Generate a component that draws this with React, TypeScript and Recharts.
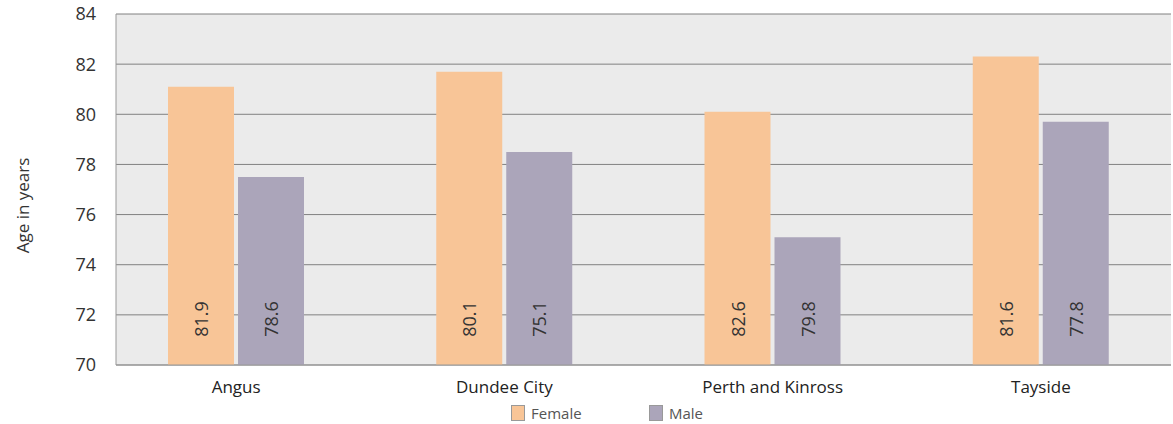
import { Bar, BarChart, CartesianGrid, LabelList, Legend, XAxis, YAxis } from "recharts";

const areas = ["Angus", "Dundee City", "Perth and Kinross", "Tayside"];
const femaleAge = [81.1, 81.7, 80.1, 82.3];
const maleAge = [77.5, 78.5, 75.1, 79.7];
// printed labels as they appear on the bars
const femaleLabels = ["81.9", "80.1", "82.6", "81.6"];
const maleLabels = ["78.6", "75.1", "79.8", "77.8"];
const yTicks = [70, 72, 74, 76, 78, 80, 82, 84];

const FEMALE = "#f8c597";
const MALE = "#aba5ba";
const FONT = "'Open Sans', sans-serif";

const data = areas.map((area, i) => ({
  area,
  female: femaleAge[i],
  male: maleAge[i],
  femaleLabel: femaleLabels[i],
  maleLabel: maleLabels[i],
}));

function RotatedLabel(props: any) {
  const { x, y, width, height, value } = props;
  const cx = x + width / 2;
  const cy = y + height - 46;
  return (
    <text
      x={cx}
      y={cy}
      transform={`rotate(-90, ${cx}, ${cy})`}
      textAnchor="middle"
      dominantBaseline="central"
      fontSize={18}
      fill="#333"
      fontFamily={FONT}
    >
      {value}
    </text>
  );
}

function YLabel(props: any) {
  const { viewBox } = props;
  const x = viewBox.x + 22;
  const y = viewBox.y + viewBox.height / 2 + 16;
  return (
    <text
      x={x}
      y={y}
      transform={`rotate(-90, ${x}, ${y})`}
      textAnchor="middle"
      dominantBaseline="central"
      fontSize={17}
      fill="#333"
      fontFamily={FONT}
    >
      Age in years
    </text>
  );
}

function LegendContent() {
  const items = [
    { name: "Female", color: FEMALE, w: 138 },
    { name: "Male", color: MALE, w: 80 },
  ];
  return (
    <div style={{ display: "flex", fontFamily: FONT, fontSize: 15, color: "#555" }}>
      {items.map((it) => (
        <div key={it.name} style={{ display: "flex", alignItems: "center", width: it.w }}>
          <span
            style={{
              display: "inline-block",
              width: 12,
              height: 14,
              background: it.color,
              border: "1px solid #999",
              marginRight: 6,
            }}
          />
          {it.name}
        </div>
      ))}
    </div>
  );
}

export default function App() {
  return (
    <div style={{ position: "absolute", left: 0, top: 0, background: "#fff" }}>
      <BarChart
        width={1173}
        height={424}
        data={data}
        margin={{ top: 14, right: 2, bottom: 1, left: 0 }}
        barSize={66}
        barGap={4}
      >
        <CartesianGrid vertical={false} stroke="#808080" fill="#ebebeb" />
        <XAxis
          dataKey="area"
          padding={{ left: -14, right: -4 }}
          tickLine={false}
          axisLine={{ stroke: "#999" }}
          tickMargin={10}
          height={38}
          tick={{ fontSize: 17, fill: "#222", fontFamily: FONT }}
        />
        <YAxis
          domain={[70, 84]}
          ticks={yTicks}
          width={116}
          tickLine={false}
          axisLine={{ stroke: "#999" }}
          tickMargin={14}
          tick={{ fontSize: 18, fill: "#333", fontFamily: FONT }}
          label={<YLabel />}
        />
        <Legend
          content={<LegendContent />}
          wrapperStyle={{ left: 511, top: 403, width: 260 }}
        />
        <Bar dataKey="female" name="Female" fill={FEMALE} isAnimationActive={false}>
          <LabelList dataKey="femaleLabel" content={<RotatedLabel />} />
        </Bar>
        <Bar dataKey="male" name="Male" fill={MALE} isAnimationActive={false}>
          <LabelList dataKey="maleLabel" content={<RotatedLabel />} />
        </Bar>
      </BarChart>
    </div>
  );
}
